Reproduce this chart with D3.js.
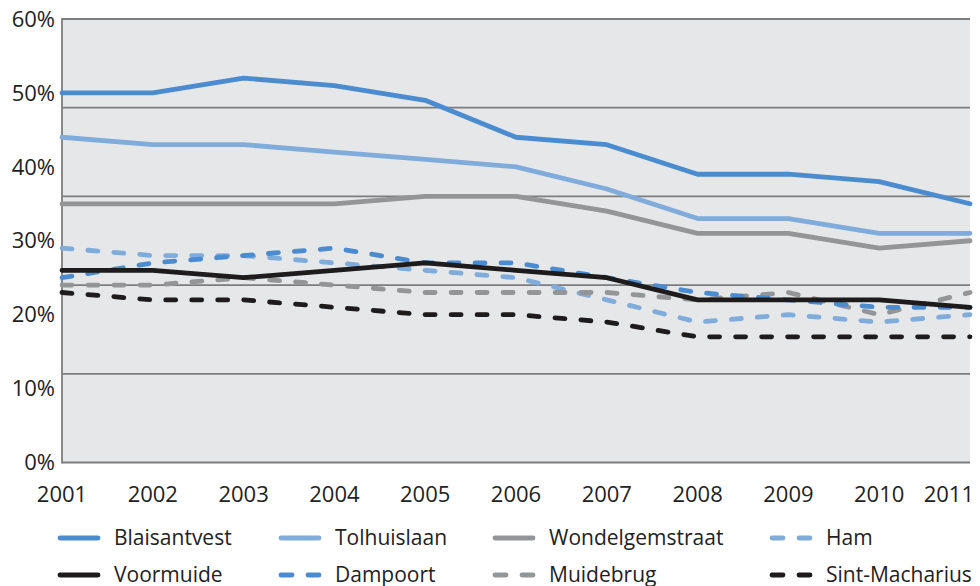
<!DOCTYPE html>
<html>
<head>
<meta charset="utf-8">
<script src="https://cdn.jsdelivr.net/npm/d3@7"></script>
<style>
  body { margin: 0; background: #fff; }
  svg text { font-family: 'Open Sans', sans-serif; fill: #222; }
</style>
</head>
<body>
<div id="chart"></div>
<script>
// data
const years = [2001, 2002, 2003, 2004, 2005, 2006, 2007, 2008, 2009, 2010, 2011]
const blaisantvest = [50, 50, 52, 51, 49, 44, 43, 39, 39, 38, 35]
const tolhuislaan = [44, 43, 43, 42, 41, 40, 37, 33, 33, 31, 31]
const wondelgemstraat = [35, 35, 35, 35, 36, 36, 34, 31, 31, 29, 30]
const ham = [29, 28, 28, 27, 26, 25, 22, 19, 20, 19, 20]
const voormuide = [26, 26, 25, 26, 27, 26, 25, 22, 22, 22, 21]
const dampoort = [25, 27, 28, 29, 27, 27, 25, 23, 22, 21, 21]
const muidebrug = [24, 24, 25, 24, 23, 23, 23, 22, 23, 20, 23]
const sintMacharius = [23, 22, 22, 21, 20, 20, 19, 17, 17, 17, 17]
const yTicks = [0, 10, 20, 30, 40, 50, 60]
const gridValues = [0, 12, 24, 36, 48, 60]

const blue = '#4a8ccf'
const lightBlue = '#80acdc'
const grey = '#949596'
const black = '#1d1b1b'

// drawing order: back to front
const series = [
  {name: 'Blaisantvest', values: blaisantvest, color: blue, dashed: false},
  {name: 'Tolhuislaan', values: tolhuislaan, color: lightBlue, dashed: false},
  {name: 'Wondelgemstraat', values: wondelgemstraat, color: grey, dashed: false},
  {name: 'Ham', values: ham, color: lightBlue, dashed: true},
  {name: 'Muidebrug', values: muidebrug, color: grey, dashed: true},
  {name: 'Dampoort', values: dampoort, color: blue, dashed: true},
  {name: 'Voormuide', values: voormuide, color: black, dashed: false},
  {name: 'Sint-Macharius', values: sintMacharius, color: black, dashed: true}
]
const legendOrder = ['Blaisantvest', 'Tolhuislaan', 'Wondelgemstraat', 'Ham',
  'Voormuide', 'Dampoort', 'Muidebrug', 'Sint-Macharius']

const width = 980
const height = 586
const plot = {left: 62, right: 970, top: 19, bottom: 462.5}
const dash = '10 16'

const svg = d3.select('#chart').append('svg')
  .attr('width', width)
  .attr('height', height)

const x = d3.scaleLinear()
  .domain([2001, 2011])
  .range([plot.left, plot.right])

const y = d3.scaleLinear()
  .domain([0, 60])
  .range([plot.bottom, plot.top])

// plot background
svg.append('rect')
  .attr('x', plot.left)
  .attr('y', plot.top)
  .attr('width', plot.right - plot.left)
  .attr('height', plot.bottom - plot.top)
  .attr('fill', '#e6e7e9')

// horizontal grid
svg.selectAll('.grid')
  .data(gridValues)
  .enter()
  .append('line')
  .attr('class', 'grid')
  .attr('x1', plot.left)
  .attr('x2', plot.right)
  .attr('y1', d => y(d))
  .attr('y2', d => y(d))
  .attr('stroke', '#7d7d7d')
  .attr('stroke-width', 1.8)

// left axis line
svg.append('line')
  .attr('x1', plot.left)
  .attr('x2', plot.left)
  .attr('y1', plot.top - 1)
  .attr('y2', plot.bottom + 1)
  .attr('stroke', '#7d7d7d')
  .attr('stroke-width', 1.8)

// y tick labels
svg.selectAll('.ylab')
  .data(yTicks)
  .enter()
  .append('text')
  .attr('class', 'ylab')
  .attr('x', 55)
  .attr('y', d => y(d))
  .attr('dy', '0.35em')
  .attr('text-anchor', 'end')
  .style('font-size', '22px')
  .text(d => d + '%')

// x tick labels
svg.selectAll('.xlab')
  .data(years)
  .enter()
  .append('text')
  .attr('class', 'xlab')
  .attr('x', (d, i) => i === years.length - 1 ? x(d) + 4 : x(d))
  .attr('y', 502)
  .attr('text-anchor', (d, i) => i === years.length - 1 ? 'end' : 'middle')
  .style('font-size', '22px')
  .text(d => d)

const line = d3.line()
  .x((d, i) => x(years[i]))
  .y(d => y(d))

svg.selectAll('.series')
  .data(series)
  .enter()
  .append('path')
  .attr('class', 'series')
  .attr('d', d => line(d.values))
  .attr('fill', 'none')
  .attr('stroke', d => d.color)
  .attr('stroke-width', 4.8)
  .attr('stroke-linejoin', 'round')
  .attr('stroke-linecap', 'round')
  .attr('stroke-dasharray', d => d.dashed ? dash : null)

// legend
const legendCols = [58, 279, 493, 770]
const legendRows = [538, 575]
const byName = {}
series.forEach(s => { byName[s.name] = s })

const legend = svg.selectAll('.legend')
  .data(legendOrder.map(n => byName[n]))
  .enter()
  .append('g')
  .attr('class', 'legend')
  .attr('transform', (d, i) =>
    `translate(${legendCols[i % 4]},${legendRows[Math.floor(i / 4)]})`)

legend.append('line')
  .attr('x1', 2)
  .attr('x2', 40)
  .attr('y1', 0)
  .attr('y2', 0)
  .attr('stroke', d => d.color)
  .attr('stroke-width', 4.8)
  .attr('stroke-linecap', 'round')
  .attr('stroke-dasharray', d => d.dashed ? '11 16' : null)

legend.append('text')
  .attr('x', 56)
  .attr('y', 0)
  .attr('dy', '0.35em')
  .style('font-size', '21px')
  .text(d => d.name)
</script>
</body>
</html>
